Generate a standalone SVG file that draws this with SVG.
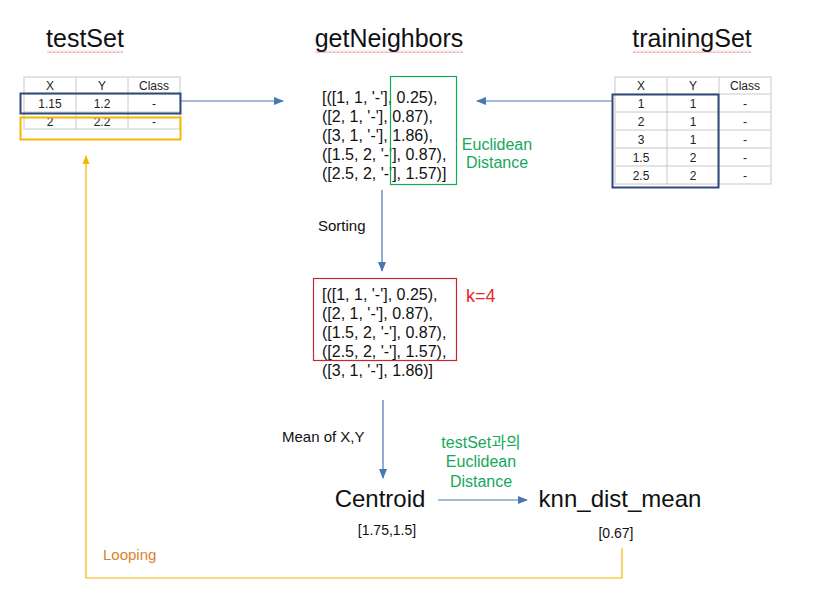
<svg xmlns="http://www.w3.org/2000/svg" width="820" height="607" viewBox="0 0 820 607">
<defs>
<marker id="ab" viewBox="0 0 10 10" refX="9" refY="5" markerWidth="10" markerHeight="10" markerUnits="userSpaceOnUse" orient="auto"><path d="M0,1 L10,5 L0,9 Z" fill="#4a76b2"/></marker>
<marker id="ay" viewBox="0 0 10 10" refX="9" refY="5" markerWidth="9" markerHeight="9" markerUnits="userSpaceOnUse" orient="auto"><path d="M0,1 L10,5 L0,9 Z" fill="#f5b800"/></marker>
<pattern id="wave" width="4" height="3" patternUnits="userSpaceOnUse"><path d="M0,2.5 L2,0.5 L4,2.5" fill="none" stroke="#e05050" stroke-width="0.7"/></pattern>
</defs>
<style>
text{font-family:"Liberation Sans",Arial,sans-serif;fill:#111}
.title{font-size:25px}
.cell{font-size:12px;fill:#222;text-anchor:middle}
.grid{stroke:#c8c8c8;stroke-width:1;fill:none}
.list{font-size:16px}
.lbl{font-size:15px}
.green{fill:#14a85a;font-size:16px;text-anchor:middle}
.conn{stroke:#4a76b2;stroke-width:1.2;fill:none}
.big{font-size:24px;text-anchor:middle}
.val{font-size:14px;text-anchor:middle}
</style>
<rect width="820" height="607" fill="#fff"/>

<g id="testSet">
<text class="title" x="85" y="47" text-anchor="middle">testSet</text>
<rect x="47" y="50" width="76" height="3" fill="url(#wave)"/>
<g class="grid">
<rect x="24" y="77" width="156" height="52"/>
<line x1="24" y1="94" x2="180" y2="94"/><line x1="24" y1="112" x2="180" y2="112"/>
<line x1="76" y1="77" x2="76" y2="129"/><line x1="128" y1="77" x2="128" y2="129"/>
</g>
<text class="cell" x="50" y="90">X</text><text class="cell" x="102" y="90">Y</text><text class="cell" x="154" y="90">Class</text>
<text class="cell" x="50" y="108">1.15</text><text class="cell" x="102" y="108">1.2</text><text class="cell" x="154" y="108">-</text>
<text class="cell" x="50" y="126">2</text><text class="cell" x="102" y="126">2.2</text><text class="cell" x="154" y="126">-</text>
<rect x="20.5" y="93.5" width="160" height="20" fill="none" stroke="#2f4a78" stroke-width="2"/>
<rect x="20.5" y="117.5" width="160" height="22" fill="none" stroke="#f5b800" stroke-width="2"/>
</g>

<g id="getNeighbors">
<text class="title" x="389" y="47" text-anchor="middle">getNeighbors</text>
<rect x="315" y="50" width="148" height="3" fill="url(#wave)"/>
<text class="list" x="322" y="103">[([1, 1, '-'], 0.25),</text>
<text class="list" x="322" y="122">([2, 1, '-'], 0.87),</text>
<text class="list" x="322" y="141">([3, 1, '-'], 1.86),</text>
<text class="list" x="322" y="160">([1.5, 2, '-'], 0.87),</text>
<text class="list" x="322" y="179">([2.5, 2, '-'], 1.57)]</text>
<rect x="390.5" y="76.5" width="66" height="108" fill="none" stroke="#14a85a" stroke-width="1.2"/>
<text class="green" x="497" y="150">Euclidean</text>
<text class="green" x="497" y="168">Distance</text>
</g>

<g id="trainingSet">
<text class="title" x="692" y="47" text-anchor="middle">trainingSet</text>
<rect x="633" y="50" width="118" height="3" fill="url(#wave)"/>
<g class="grid">
<rect x="615" y="77" width="156" height="107"/>
<line x1="615" y1="94" x2="771" y2="94"/><line x1="615" y1="112" x2="771" y2="112"/><line x1="615" y1="130" x2="771" y2="130"/><line x1="615" y1="148" x2="771" y2="148"/><line x1="615" y1="166" x2="771" y2="166"/>
<line x1="667" y1="77" x2="667" y2="184"/><line x1="719" y1="77" x2="719" y2="184"/>
</g>
<text class="cell" x="641" y="90">X</text><text class="cell" x="693" y="90">Y</text><text class="cell" x="745" y="90">Class</text>
<text class="cell" x="641" y="108">1</text><text class="cell" x="693" y="108">1</text><text class="cell" x="745" y="108">-</text>
<text class="cell" x="641" y="126">2</text><text class="cell" x="693" y="126">1</text><text class="cell" x="745" y="126">-</text>
<text class="cell" x="641" y="144">3</text><text class="cell" x="693" y="144">1</text><text class="cell" x="745" y="144">-</text>
<text class="cell" x="641" y="162">1.5</text><text class="cell" x="693" y="162">2</text><text class="cell" x="745" y="162">-</text>
<text class="cell" x="641" y="180">2.5</text><text class="cell" x="693" y="180">2</text><text class="cell" x="745" y="180">-</text>
<rect x="612.5" y="94.5" width="106" height="93" fill="none" stroke="#2f4a78" stroke-width="2"/>
</g>

<g id="sorted">
<rect x="313.5" y="278.5" width="143" height="82" fill="none" stroke="#c8262d" stroke-width="1.2"/>
<text class="list" x="322" y="300">[([1, 1, '-'], 0.25),</text>
<text class="list" x="322" y="319">([2, 1, '-'], 0.87),</text>
<text class="list" x="322" y="338">([1.5, 2, '-'], 0.87),</text>
<text class="list" x="322" y="357">([2.5, 2, '-'], 1.57),</text>
<text class="list" x="322" y="376">([3, 1, '-'], 1.86)]</text>
<text x="466" y="302" style="font-size:18px;fill:#e8262b">k=4</text>
</g>

<g id="centroid">
<text class="big" x="380" y="507">Centroid</text>
<text class="val" x="387" y="535">[1.75,1.5]</text>
</g>

<g id="knn_dist_mean">
<text class="big" x="620" y="507">knn_dist_mean</text>
<text class="val" x="616" y="538">[0.67]</text>
</g>

<g id="connectors">
<line class="conn" x1="181" y1="101" x2="283" y2="101" marker-end="url(#ab)"/>
<line class="conn" x1="612" y1="101" x2="477" y2="101" marker-end="url(#ab)"/>
<line class="conn" x1="382" y1="190" x2="382" y2="271" marker-end="url(#ab)"/>
<text class="lbl" x="318" y="231">Sorting</text>
<line class="conn" x1="383" y1="400" x2="383" y2="478" marker-end="url(#ab)"/>
<text class="lbl" x="282" y="442">Mean of X,Y</text>
<line class="conn" x1="438" y1="500" x2="527" y2="500" marker-end="url(#ab)"/>
<text class="green" x="481" y="448">testSet<tspan font-family="'Noto Sans CJK KR',sans-serif">과의</tspan></text>
<text class="green" x="481" y="467">Euclidean</text>
<text class="green" x="481" y="487">Distance</text>
<polyline points="622,548 622,578 86,578 86,156" fill="none" stroke="#f5b800" stroke-width="1.2" marker-end="url(#ay)"/>
<text x="103" y="560" style="font-size:15px;fill:#d9822b">Looping</text>
</g>
</svg>
